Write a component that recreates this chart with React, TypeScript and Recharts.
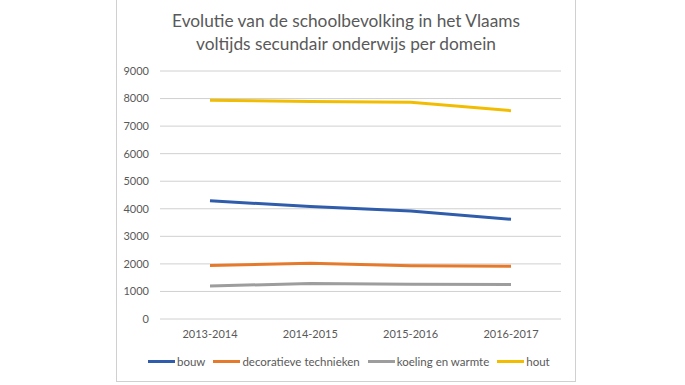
import React from 'react';
import { LineChart, Line, XAxis, YAxis, CartesianGrid } from 'recharts';

const schooljaren = ['2013-2014', '2014-2015', '2015-2016', '2016-2017'];
const bouw = [4290, 4080, 3920, 3620];
const decoratieveTechnieken = [1940, 2020, 1930, 1915];
const koelingEnWarmte = [1200, 1285, 1260, 1250];
const hout = [7940, 7890, 7865, 7560];
const yTicks = [0, 1000, 2000, 3000, 4000, 5000, 6000, 7000, 8000, 9000];

const series = [
  { key: 'bouw', label: 'bouw', color: '#2f5cab', values: bouw },
  { key: 'decoratief', label: 'decoratieve technieken', color: '#e57a2c', values: decoratieveTechnieken },
  { key: 'koeling', label: 'koeling en warmte', color: '#9d9d9d', values: koelingEnWarmte },
  { key: 'hout', label: 'hout', color: '#f2bd00', values: hout },
];

const data = schooljaren.map((jaar, i) => {
  const row: Record<string, string | number> = { jaar };
  series.forEach((s) => {
    row[s.key] = s.values[i];
  });
  return row;
});

const font = 'Lato, "Open Sans", sans-serif';
const textColor = '#595959';

function ChartLegend() {
  return (
    <div
      style={{
        position: 'absolute',
        left: 148,
        top: 355,
        display: 'flex',
        alignItems: 'center',
        fontFamily: font,
        fontSize: 11.5,
        color: textColor,
        whiteSpace: 'nowrap',
      }}
    >
      {series.map((s) => (
        <div key={s.key} style={{ display: 'flex', alignItems: 'center', marginRight: 8 }}>
          <div style={{ width: 27, height: 3, background: s.color, marginRight: 2 }} />
          <span>{s.label}</span>
        </div>
      ))}
    </div>
  );
}

export default function App() {
  return (
    <div
      style={{
        position: 'absolute',
        left: 0,
        top: 0,
        width: 685,
        height: 385,
        background: '#fff',
        overflow: 'hidden',
      }}
    >
      <div
        style={{
          position: 'absolute',
          left: 116,
          top: -1,
          width: 458,
          height: 381,
          border: '1px solid #d0d0d0',
        }}
      />
      <div
        style={{
          position: 'absolute',
          left: 146,
          top: 10,
          width: 400,
          textAlign: 'center',
          fontFamily: font,
          fontSize: 17.3,
          lineHeight: '22.5px',
          color: textColor,
        }}
      >
        Evolutie van de schoolbevolking in het Vlaams
        <br />
        voltijds secundair onderwijs per domein
      </div>
      <div style={{ position: 'absolute', left: 0, top: 0 }}>
        <LineChart
          width={685}
          height={385}
          data={data}
          margin={{ top: 71, right: 124, bottom: 36, left: 110 }}
        >
          <CartesianGrid horizontal vertical={false} stroke="#d0d0d0" />
          <XAxis
            dataKey="jaar"
            height={30}
            axisLine={false}
            tickLine={false}
            tickSize={0}
            tickMargin={11}
            padding={{ left: 50, right: 50 }}
            tick={{ fill: textColor, fontSize: 11, fontFamily: font }}
          />
          <YAxis
            width={50}
            domain={[0, 9000]}
            ticks={yTicks}
            axisLine={false}
            tickLine={false}
            tickSize={0}
            tickMargin={11}
            tick={{ fill: textColor, fontSize: 11, fontFamily: font }}
          />
          {series.map((s) => (
            <Line
              key={s.key}
              type="linear"
              dataKey={s.key}
              stroke={s.color}
              strokeWidth={3}
              dot={false}
              activeDot={false}
              isAnimationActive={false}
            />
          ))}
        </LineChart>
      </div>
      <ChartLegend />
    </div>
  );
}
